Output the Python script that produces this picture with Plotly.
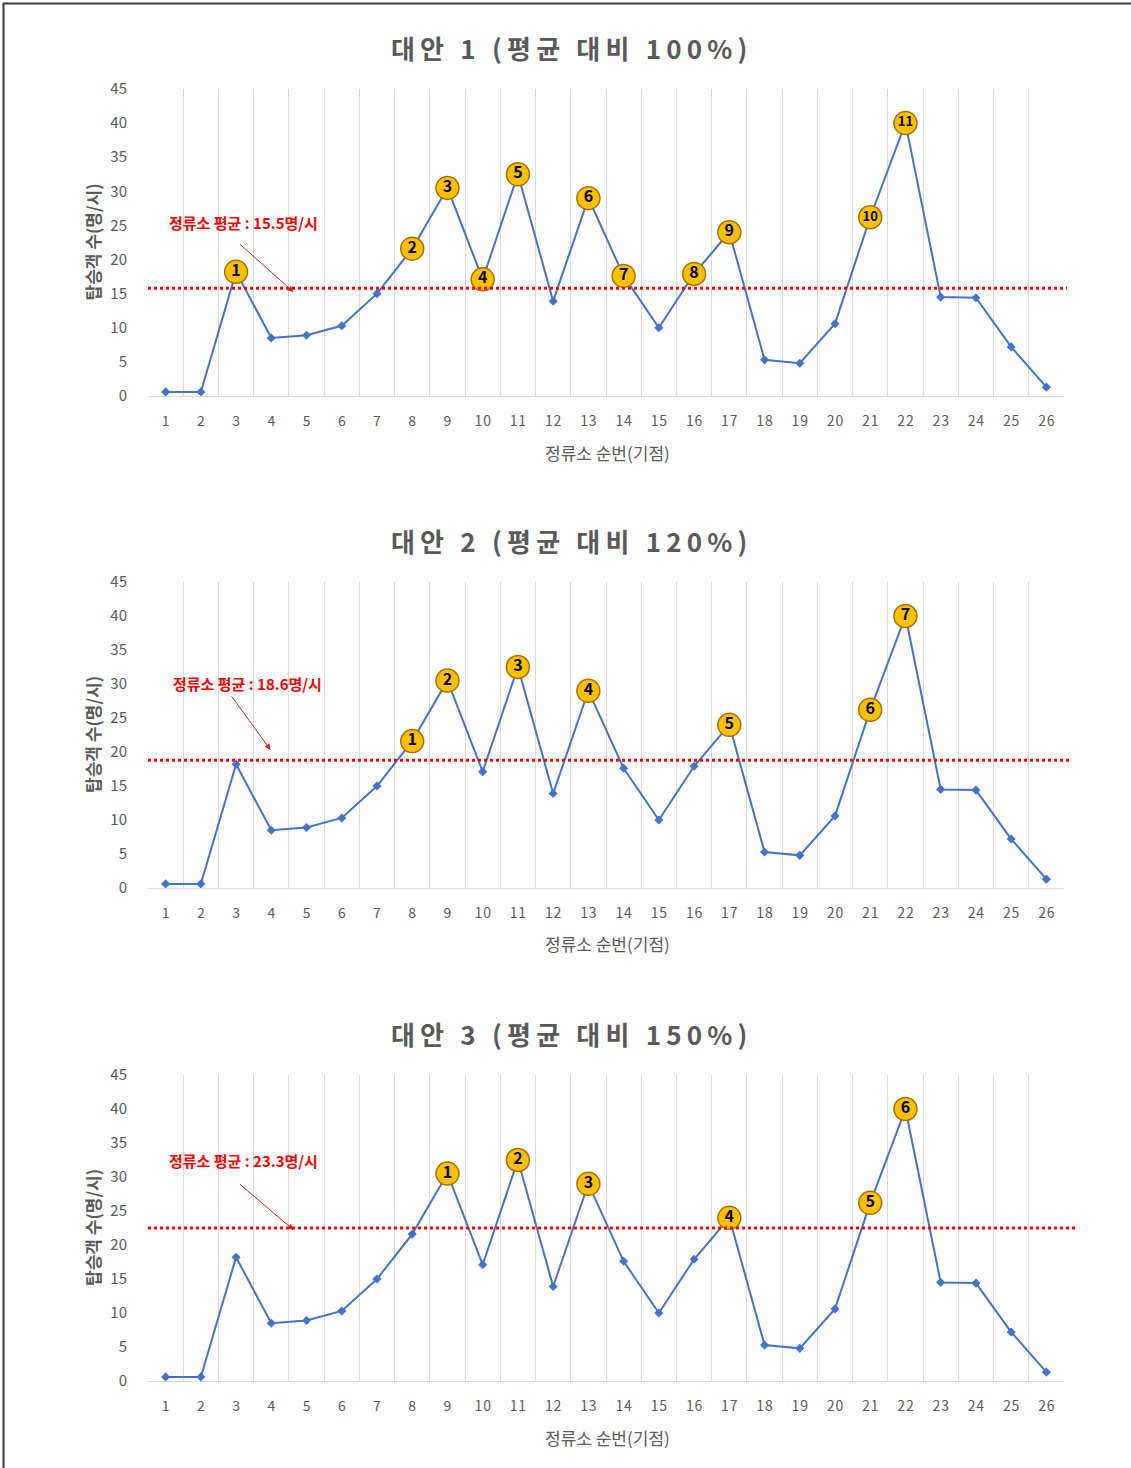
import plotly.graph_objects as go

# ---------------- data ----------------
stations = list(range(1, 27))
passengers = [0.6, 0.6, 18.2, 8.5, 8.9, 10.3, 15.0, 21.6, 30.5, 17.1, 32.5, 13.9, 29.0,
              17.6, 10.0, 17.9, 24.0, 5.3, 4.8, 10.6, 26.2, 40.0, 14.5, 14.4, 7.2, 1.3]

chart_titles = ["대안 1 (평균 대비 100%)", "대안 2 (평균 대비 120%)", "대안 3 (평균 대비 150%)"]
avg_labels = ["정류소 평균 : 15.5명/시", "정류소 평균 : 18.6명/시", "정류소 평균 : 23.3명/시"]
avg_levels = [15.8, 18.8, 22.5]          # as drawn in the picture
highlights = [
    [3, 8, 9, 10, 11, 13, 14, 16, 17, 21, 22],
    [8, 9, 11, 13, 17, 21, 22],
    [9, 11, 13, 17, 21, 22],
]
x_title = "정류소 순번(기점)"
y_title = "탑승객 수(명/시)"
y_ticks = list(range(0, 46, 5))

# ---------------- layout helpers ----------------
W, H = 1131, 1468
FONT = "Noto Sans CJK KR"
GREY = "#595959"
plot_left, plot_right = 148, 1064
plot_tops = [89, 582, 1075]
plot_bottoms = [396, 888, 1381]
red_line_right = [1067, 1070, 1077]
# text/arrow placement (data coords) per chart
label_pos = [(3.21, 25.5), (3.33, 30.1), (3.21, 32.4)]
arrow_head = [(4.63, 15.25), (3.98, 20.3), (4.63, 22.2)]
arrow_tail_off = [(-55, -49), (-40, -55), (-55, -47)]


def px(xp):
    return xp / W


def py(yp):
    return 1 - yp / H


def spaced(s, gap="\u2009"):
    return gap.join(list(s))


fig = go.Figure()
annotations = []
shapes = []

for i in range(3):
    xa = "x" if i == 0 else f"x{i+1}"
    ya = "y" if i == 0 else f"y{i+1}"
    xkey = "xaxis" if i == 0 else f"xaxis{i+1}"
    ykey = "yaxis" if i == 0 else f"yaxis{i+1}"

    # main line
    fig.add_trace(go.Scatter(
        x=stations, y=passengers, mode="lines+markers",
        line=dict(color="#4472C4", width=2),
        marker=dict(symbol="diamond", size=7, color="#4472C4"),
        xaxis=xa, yaxis=ya, showlegend=False, hoverinfo="x+y"))

    # highlighted circles
    hx = highlights[i]
    hy = [passengers[s - 1] for s in hx]
    labels = [str(k + 1) for k in range(len(hx))]
    sizes = [16 if len(t) == 1 else 13 for t in labels]
    fig.add_trace(go.Scatter(
        x=hx, y=hy, mode="markers+text", text=labels,
        textposition="middle center",
        textfont=dict(family=FONT, size=sizes, color="#000000", weight="bold"),
        marker=dict(symbol="circle", size=23, color="#FFC000",
                    line=dict(color="#A86F00", width=1.5)),
        xaxis=xa, yaxis=ya, showlegend=False, cliponaxis=False, hoverinfo="skip"))

    top, bot = plot_tops[i], plot_bottoms[i]
    fig.layout[xkey] = dict(
        domain=[px(plot_left), px(plot_right)], anchor=ya,
        range=[0.5, 26.5], tickmode="array", tickvals=stations,
        ticktext=[spaced(str(s), "\u200a") for s in stations],
        showgrid=False, zeroline=False, automargin=False,
        showline=True, linecolor="#D9D9D9", linewidth=1,
        ticks="", ticklabelstandoff=12,
        tickfont=dict(family=FONT, size=14, color=GREY),
        minor=dict(tick0=0.5, dtick=1, showgrid=True, gridcolor="#D9D9D9", gridwidth=1),
        fixedrange=True)
    fig.layout[ykey] = dict(
        domain=[py(bot), py(top)], anchor=xa,
        range=[0, 45], tickmode="array", tickvals=y_ticks,
        showgrid=False, zeroline=False, showline=False, automargin=False,
        ticks="", ticklabelstandoff=20,
        tickfont=dict(family=FONT, size=15, color=GREY),
        fixedrange=True)

    # average dotted line
    shapes.append(dict(type="line", xref="paper", yref=ya,
                       x0=px(plot_left), x1=px(red_line_right[i]),
                       y0=avg_levels[i], y1=avg_levels[i],
                       line=dict(color="#FF0000", width=3, dash="dot"), layer="above"))

    # chart title
    annotations.append(dict(text=spaced(chart_titles[i]), xref="paper", yref="paper",
                            x=px(569), y=py(top - 42), showarrow=False,
                            xanchor="center", yanchor="middle",
                            font=dict(family=FONT, size=26, color=GREY, weight="bold")))
    # x axis title
    annotations.append(dict(text=x_title, xref="paper", yref="paper",
                            x=px(607), y=py(bot + 56), showarrow=False,
                            xanchor="center", yanchor="middle",
                            font=dict(family=FONT, size=17, color=GREY)))
    # y axis title
    annotations.append(dict(text=y_title, xref="paper", yref="paper",
                            x=px(92), y=py((top + bot) / 2), showarrow=False,
                            textangle=-90, xanchor="center", yanchor="middle",
                            font=dict(family=FONT, size=17, color=GREY, weight="bold")))
    # average label
    annotations.append(dict(text=avg_labels[i], xref=xa, yref=ya,
                            x=label_pos[i][0], y=label_pos[i][1], showarrow=False,
                            xanchor="center", yanchor="middle",
                            font=dict(family=FONT, size=15, color="#FF0000", weight="bold")))
    # arrow
    annotations.append(dict(text="", xref=xa, yref=ya,
                            x=arrow_head[i][0], y=arrow_head[i][1],
                            ax=arrow_tail_off[i][0], ay=arrow_tail_off[i][1],
                            showarrow=True, arrowhead=2, arrowsize=1.2, arrowwidth=1,
                            arrowcolor="#D02020", standoff=0))

# page border (top and left)
shapes.append(dict(type="line", xref="paper", yref="paper",
                   x0=px(3), x1=1, y0=py(3.5), y1=py(3.5),
                   line=dict(color="#3A3A3A", width=2)))
shapes.append(dict(type="line", xref="paper", yref="paper",
                   x0=px(3.5), x1=px(3.5), y0=0, y1=py(3),
                   line=dict(color="#3A3A3A", width=2)))

fig.update_layout(
    width=W, height=H,
    margin=dict(l=0, r=0, t=0, b=0, pad=0, autoexpand=False),
    paper_bgcolor="white", plot_bgcolor="white",
    font=dict(family=FONT, color=GREY),
    annotations=annotations, shapes=shapes,
    showlegend=False,
)

fig.write_html("out.html")
